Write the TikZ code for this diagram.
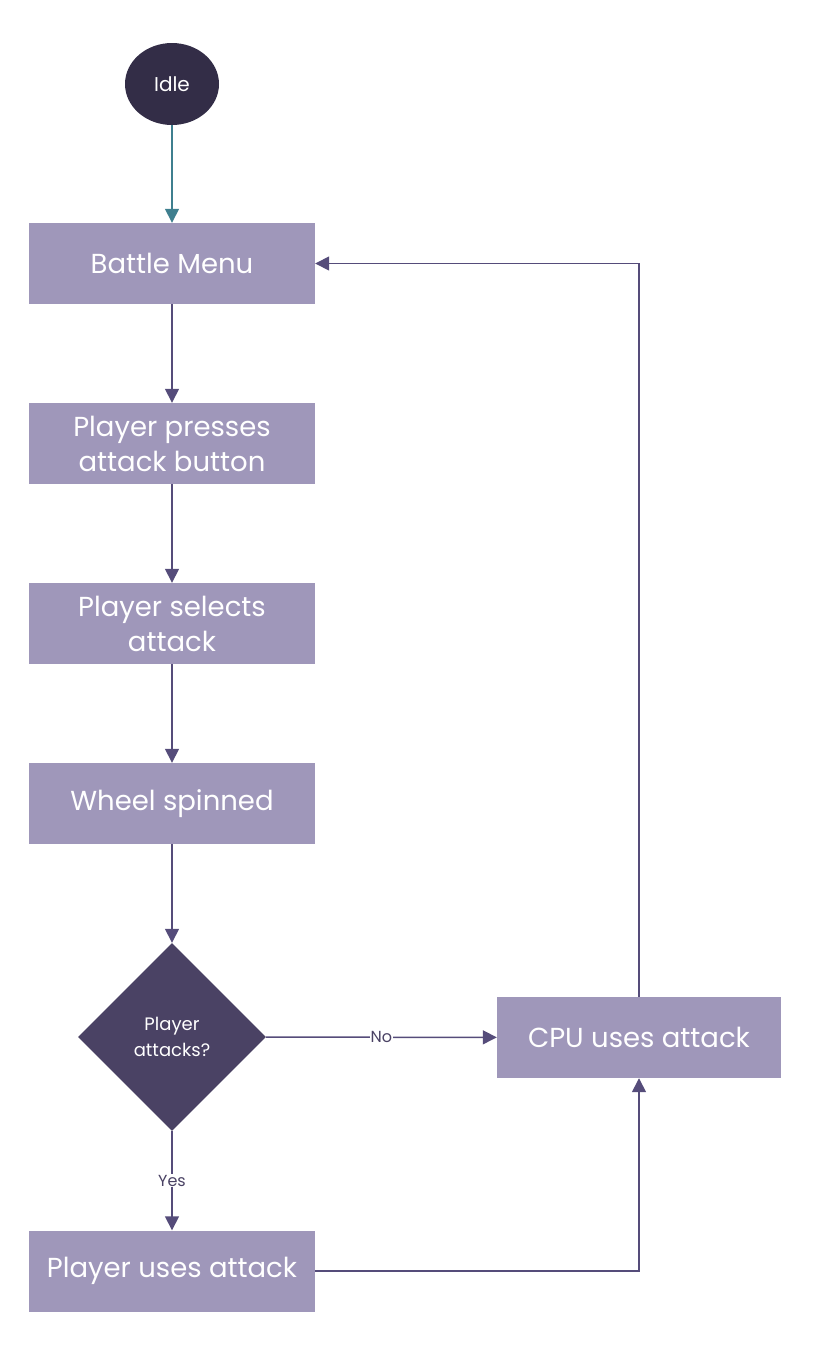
\documentclass[tikz,border=0pt]{standalone}
\usepackage{fontspec}
\setmainfont{Poppins}
\usetikzlibrary{shapes.geometric,arrows.meta}
\definecolor{boxfill}{HTML}{9F97BA}
\definecolor{idlefill}{HTML}{332D47}
\definecolor{diafill}{HTML}{4A4264}
\definecolor{arr}{HTML}{554C7A}
\definecolor{teal}{HTML}{3F7F8F}
\begin{document}
\begin{tikzpicture}[x=1pt,y=-1pt,
  stepbox/.style={rectangle,fill=boxfill,minimum width=286pt,minimum height=81pt,inner sep=2pt,text=white,font=\fontsize{27.5}{35}\selectfont,align=center},
  conn/.style={draw=arr,line width=1.5pt,-{Triangle[width=14pt,length=14pt]}},
  lbl/.style={fill=white,text=diafill,font=\fontsize{16}{18}\selectfont,inner sep=1pt}]
\useasboundingbox (0,0) rectangle (838,1345);
\node[ellipse,fill=idlefill,minimum width=94pt,minimum height=82pt,text=white,font=\fontsize{20}{22}\selectfont] (idle) at (172,84) {Idle};
\node[stepbox] (menu) at (172,263.5) {Battle Menu};
\node[stepbox] (press) at (172,443.5) {Player presses\\attack button};
\node[stepbox] (select) at (172,623.5) {Player selects\\attack};
\node[stepbox] (wheel) at (172,803.5) {Wheel spinned};
\node[diamond,fill=diafill,minimum width=188pt,minimum height=188pt,inner sep=0pt,text=white,align=center,font=\fontsize{18}{26}\selectfont] (dec) at (172,1037) {Player\\attacks?};
\node[stepbox,minimum width=284pt] (cpu) at (639,1037.5) {CPU uses attack};
\node[stepbox] (puse) at (172,1271) {Player uses attack};
\draw[conn,draw=teal,-{Triangle[width=14pt,length=14pt,fill=teal]}] (idle) -- (menu);
\draw[conn] (menu) -- (press);
\draw[conn] (press) -- (select);
\draw[conn] (select) -- (wheel);
\draw[conn] (wheel) -- (dec);
\draw[conn] (dec) -- node[lbl]{No} (cpu);
\draw[conn] (dec) -- node[lbl,pos=0.5]{Yes} (puse);
\draw[conn] (cpu.north) |- (menu.east);
\draw[conn] (puse.east) -| (cpu.south);
\end{tikzpicture}
\end{document}
